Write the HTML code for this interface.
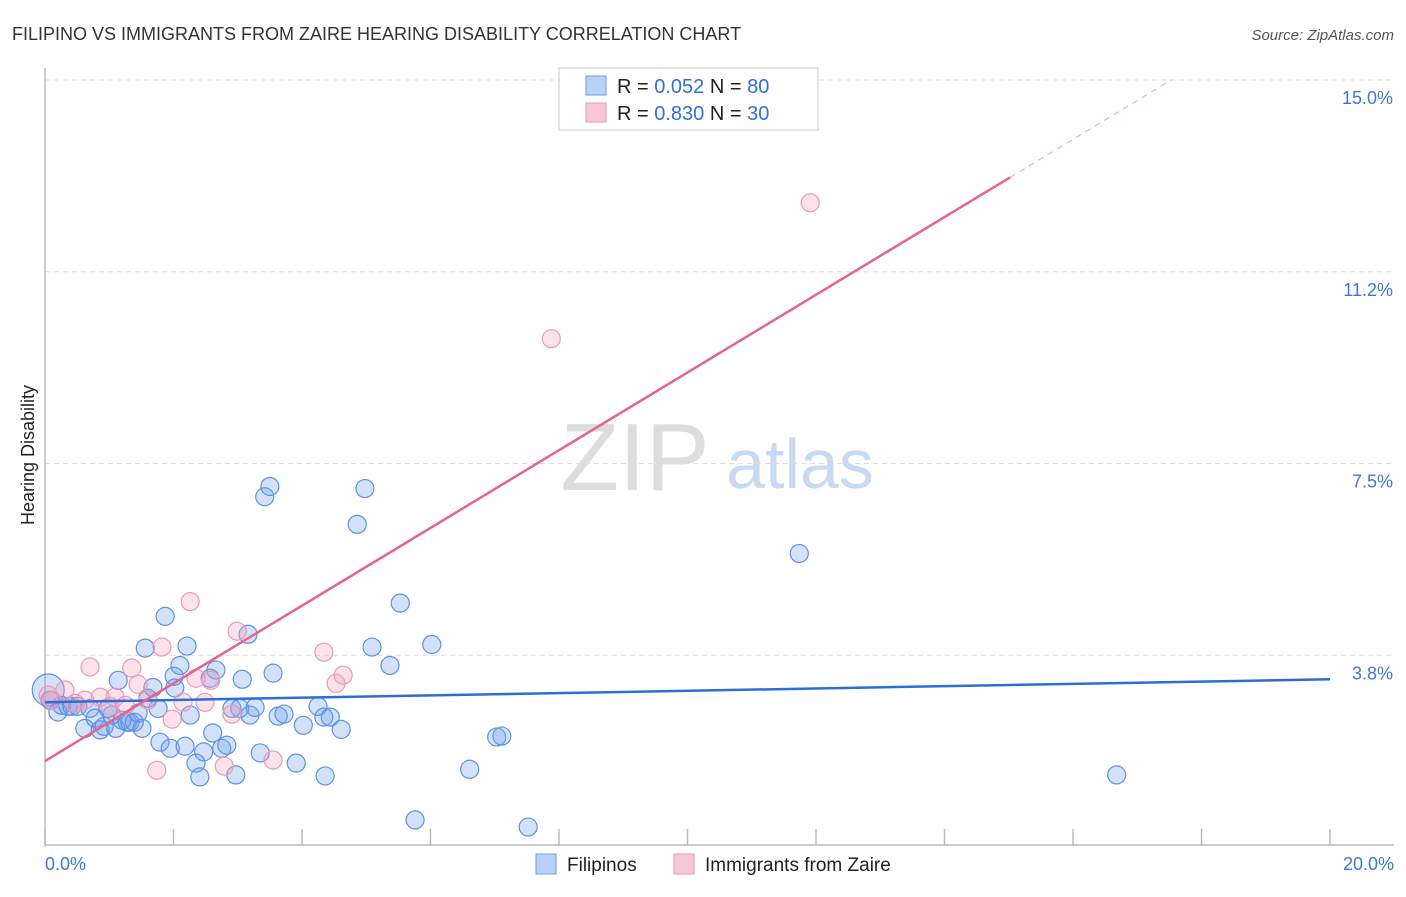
<!DOCTYPE html>
<html><head><meta charset="utf-8"><style>
body{margin:0;background:#fff;font-family:"Liberation Sans",sans-serif;}
svg text{font-family:"Liberation Sans",sans-serif;}
</style></head><body>
<svg id="chart" width="1406" height="892">
<text x="12" y="40" font-size="18" fill="#333">FILIPINO VS IMMIGRANTS FROM ZAIRE HEARING DISABILITY CORRELATION CHART</text>
<text x="1394" y="40" font-size="15" fill="#555" text-anchor="end" font-style="italic">Source: ZipAtlas.com</text>
<text x="34" y="455" font-size="18" fill="#222" transform="rotate(-90 34 455)" text-anchor="middle">Hearing Disability</text>
<g><text x="635" y="490" font-size="96" font-family="Liberation Serif" fill="#ddd" text-anchor="middle">ZIP</text><text x="800" y="488" font-size="70" fill="#c8daf2" text-anchor="middle">atlas</text></g>
<g id="grid"></g><g id="axes"></g><g id="pts"></g><g id="lines"></g>
<g>
<rect x="559" y="68" width="259" height="62" fill="#fff" stroke="#ccc"/>
<rect x="586" y="76" width="20" height="19" fill="#b9d1f5" stroke="#6a9ae0"/>
<rect x="586" y="103" width="20" height="19" fill="#f9c8d6" stroke="#e99ab2"/>
<text x="617" y="93" font-size="20" fill="#222">R = <tspan fill="#2f6fd6">0.052</tspan>   N = <tspan fill="#2f6fd6">80</tspan></text>
<text x="617" y="120" font-size="20" fill="#222">R = <tspan fill="#2f6fd6">0.830</tspan>   N = <tspan fill="#2f6fd6">30</tspan></text>
</g>
<g>
<rect x="536" y="854" width="20" height="20" fill="#b9d1f5" stroke="#6a9ae0"/>
<text x="567" y="871" font-size="19" fill="#222">Filipinos</text>
<rect x="674" y="854" width="20" height="20" fill="#f9c8d6" stroke="#e99ab2"/>
<text x="705" y="871" font-size="19" fill="#222">Immigrants from Zaire</text>
</g>
</svg>
<script>
const yTicks=[15,11.25,7.5,3.75];
const yTickLabels=["15.0%","11.2%","7.5%","3.8%"];
const xTicks=[0,2,4,6,8,10,12,14,16,18,20];
const blueX=[0.05,0.08,0.20,0.26,0.36,0.42,0.51,0.62,0.70,0.78,0.86,0.92,0.98,1.04,1.10,1.14,1.20,1.28,1.32,1.39,1.45,1.51,1.56,1.60,1.68,1.76,1.79,1.87,1.95,2.01,2.02,2.10,2.18,2.21,2.26,2.35,2.41,2.47,2.57,2.61,2.66,2.75,2.83,2.91,2.97,3.03,3.07,3.16,3.19,3.27,3.35,3.42,3.50,3.55,3.63,3.72,3.91,4.02,4.25,4.34,4.36,4.44,4.61,4.86,4.98,5.09,5.37,5.53,5.76,6.02,6.61,7.03,7.11,7.52,11.74,16.68];
const blueY=[3.07,2.87,2.64,2.77,2.75,2.75,2.75,2.32,2.71,2.52,2.29,2.36,2.71,2.58,2.32,3.26,2.48,2.44,2.44,2.44,2.62,2.32,3.89,2.91,3.12,2.71,2.05,4.51,1.93,3.34,3.11,3.55,1.97,3.93,2.58,1.64,1.37,1.86,3.30,2.23,3.46,1.93,1.99,2.71,1.41,2.71,3.28,4.16,2.58,2.73,1.84,6.85,7.05,3.40,2.56,2.60,1.64,2.38,2.75,2.54,1.39,2.54,2.30,6.31,7.01,3.91,3.55,4.77,0.53,3.96,1.52,2.15,2.17,0.39,5.74,1.41];
const pinkX=[0.05,0.11,0.31,0.47,0.62,0.70,0.86,1.01,1.09,1.25,1.35,1.45,1.60,1.74,1.82,1.98,2.15,2.26,2.35,2.49,2.58,2.79,2.91,2.99,3.55,4.34,4.53,4.64,7.88,11.91];
const pinkY=[2.97,2.87,3.07,2.81,2.87,3.52,2.93,2.75,2.93,2.77,3.50,3.18,2.87,1.50,3.91,2.50,2.83,4.80,3.30,2.83,3.26,1.58,2.60,4.22,1.70,3.81,3.20,3.36,9.94,12.60];
const blueTrend=[2.83,0.0225]; // intercept, slope
const pinkTrend=[1.68,0.76];
const NS="http://www.w3.org/2000/svg";
const X0=45,X1=1330,YB=847,YT=80;
const sx=v=>X0+(X1-X0)*v/20;
const sy=v=>YB-(YB-YT)*v/15;
function mk(t,a,p){const e=document.createElementNS(NS,t);for(const k in a)e.setAttribute(k,a[k]);p.appendChild(e);return e;}
const grid=document.getElementById('grid'),axes=document.getElementById('axes'),pts=document.getElementById('pts'),lines=document.getElementById('lines');
yTicks.forEach((v,i)=>{
 const l=mk('line',{x1:X0,x2:1394,y1:sy(v),y2:sy(v),stroke:'#ddd','stroke-dasharray':'5,4'},grid);
 
 
 const t=mk('text',{x:1393,y:sy(v)+24,'font-size':18,fill:'#3d78d8','text-anchor':'end'},axes);
 t.textContent=yTickLabels[i];
 
 
});
const ax=mk('line',{x1:X0,x2:X0,y1:68,y2:YB,stroke:'#bbb','stroke-width':1.5},axes);


const bx=mk('line',{x1:X0,x2:1394,y1:845,y2:845,stroke:'#bbb','stroke-width':1.5},axes);


xTicks.forEach(v=>{
 const t=mk('line',{x1:sx(v),x2:sx(v),y1:829,y2:845,stroke:'#bbb','stroke-width':1.5},axes);
 
 
});
const xl0=mk('text',{x:45,y:870,'font-size':18,fill:'#3d78d8'},axes);xl0.textContent='0.0%';


const xl1=mk('text',{x:1394,y:870,'font-size':18,fill:'#3d78d8','text-anchor':'end'},axes);xl1.textContent='20.0%';


blueX.forEach((v,i)=>{
 const c=mk('circle',{cx:sx(v),cy:sy(blueY[i]),r:i==0?16:9,fill:'rgba(110,160,235,0.3)',stroke:'#5d92e2','stroke-width':1.2},pts);
 
 
});
pinkX.forEach((v,i)=>{
 const c=mk('circle',{cx:sx(v),cy:sy(pinkY[i]),r:9,fill:'rgba(245,160,190,0.3)',stroke:'#ec9ab4','stroke-width':1.2},pts);
 
 
});
const bl=mk('line',{x1:sx(0),y1:sy(blueTrend[0]),x2:sx(20),y2:sy(blueTrend[0]+20*blueTrend[1]),stroke:'#2a6fd6','stroke-width':2.5},lines);


const xe=15.02,xd=(15-pinkTrend[0])/pinkTrend[1];
const pl=mk('line',{x1:sx(0),y1:sy(pinkTrend[0]),x2:sx(xe),y2:sy(pinkTrend[0]+xe*pinkTrend[1]),stroke:'#e5648e','stroke-width':2.5},lines);


const pd=mk('line',{x1:sx(xe),y1:sy(pinkTrend[0]+xe*pinkTrend[1]),x2:sx(xd),y2:sy(15),stroke:'#e5648e','stroke-width':1,'stroke-dasharray':'6,5',opacity:0.6},lines);


</script>
</body></html>
